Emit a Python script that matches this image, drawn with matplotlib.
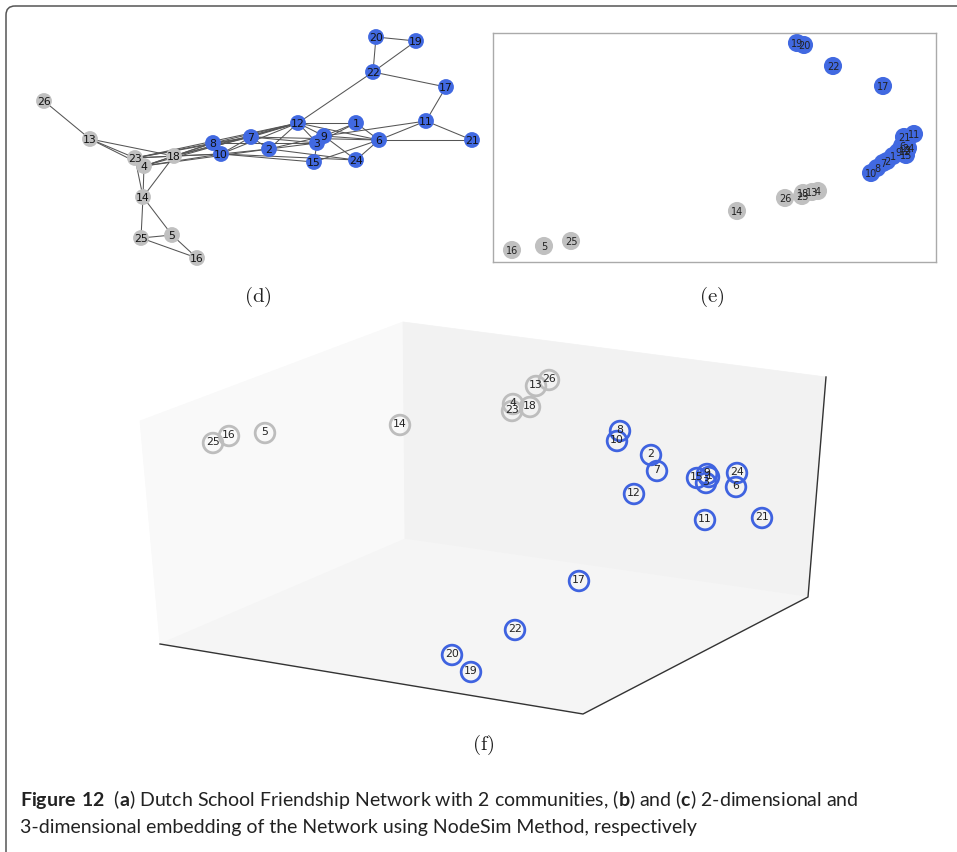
import matplotlib
matplotlib.use("Agg")
from matplotlib import pyplot as plt
from matplotlib.patches import FancyBboxPatch, Polygon

plt.rcParams['mathtext.fontset'] = 'custom'
plt.rcParams['mathtext.rm'] = 'Lato'
plt.rcParams['mathtext.bf'] = 'Lato:bold'

W, H = 957, 853

# nodes and their community (1 = blue, 0 = gray)
node_ids = list(range(1, 27))
community = [1, 1, 1, 0, 0, 1, 1, 1, 1, 1, 1, 1, 0, 0, 1, 0, 1, 0, 1, 1, 1, 1, 0, 1, 0, 0]

# (d) network layout
d_x = [356, 269, 317, 144, 172, 379, 251, 213, 324, 221, 426, 298, 90, 143, 314, 197, 446, 174, 416, 376, 472, 373, 135, 356, 141, 44]
d_y = [124, 150, 144, 167, 236, 141, 138, 144, 137, 155, 122, 124, 140, 198, 163, 259, 88, 157, 42, 38, 141, 73, 159, 161, 239, 102]

edges = [
    (26, 13), (13, 23), (13, 4), (13, 18),
    (23, 4), (23, 18), (23, 14), (4, 14), (18, 14), (4, 18),
    (14, 25), (14, 5), (25, 5), (25, 16), (5, 16),
    (23, 8), (23, 10), (23, 7), (4, 8), (4, 10), (4, 12), (4, 2),
    (18, 8), (18, 10), (18, 7), (18, 12), (23, 12),
    (8, 10), (8, 7), (8, 12), (8, 3), (10, 7), (10, 12), (10, 2), (10, 15), (10, 24),
    (7, 2), (7, 12), (7, 6), (7, 3), (2, 12), (2, 24), (2, 9), (2, 3),
    (12, 22), (12, 1), (12, 6), (12, 9), (12, 3),
    (1, 6), (1, 9), (1, 3), (9, 24), (9, 6), (9, 3), (9, 11), (3, 15), (15, 6), (24, 6),
    (6, 11), (6, 21), (11, 21), (11, 17), (22, 17), (22, 20), (22, 19), (20, 19),
]

# (e) 2-dimensional embedding
e_x = [893, 887, 907, 818, 544, 902, 883, 877, 898, 871, 914, 905, 812, 737, 906, 512, 883, 803, 797, 804, 904, 833, 802, 908, 571, 785]
e_y = [157, 162, 151, 192, 247, 147, 164, 169, 153, 174, 135, 152, 193, 212, 156, 251, 87, 194, 44, 46, 138, 67, 197, 149, 242, 199]

# (f) 3-dimensional embedding (projected)
f_x = [709, 651, 706, 513, 265, 736, 657, 620, 707, 617, 705, 634, 536, 400, 697, 229, 579, 530, 471, 452, 762, 515, 512, 737, 213, 549]
f_y = [478, 456, 484, 405, 434, 488, 472, 432, 475, 442, 521, 495, 387, 426, 479, 437, 582, 408, 673, 656, 519, 631, 412, 474, 444, 381]

BLUE = '#4169e1'
GRAY = '#c0c0c0'
colors = [BLUE if c else GRAY for c in community]
ring_colors = ['#3f63e0' if c else '#bdbdbd' for c in community]

fig = plt.figure(figsize=(W / 100, H / 100), dpi=100)

# frame
bg = fig.add_axes([0, 0, 1, 1])
bg.set_xlim(0, W)
bg.set_ylim(H, 0)
bg.axis('off')
bg.add_patch(FancyBboxPatch((6, 7), 1000, 900, boxstyle='round,pad=0,rounding_size=9',
                            fc='none', ec='#555555', lw=1.1))

# (d)
ax_d = fig.add_axes([20 / W, 1 - 275 / H, 470 / W, 255 / H])
ax_d.set_xlim(20, 490)
ax_d.set_ylim(275, 20)
ax_d.axis('off')
for a, b in edges:
    ax_d.plot([d_x[a - 1], d_x[b - 1]], [d_y[a - 1], d_y[b - 1]], color='#555555', lw=0.75, zorder=1)
ax_d.scatter(d_x, d_y, s=130, c=colors, linewidths=0, zorder=2)
for i, n in enumerate(node_ids):
    ax_d.text(d_x[i], d_y[i], str(n), ha='center', va='center', fontsize=7.8, color='#111111', zorder=3)

# (e)
ax_e = fig.add_axes([493 / W, 1 - 263 / H, 443 / W, 229 / H])
ax_e.set_xlim(493, 936)
ax_e.set_ylim(263, 34)
ax_e.set_xticks([])
ax_e.set_yticks([])
for sp in ax_e.spines.values():
    sp.set_color('#aaaaaa')
    sp.set_linewidth(1)
ax_e.scatter(e_x, e_y, s=170, c=colors, linewidths=0, zorder=2)
for i, n in enumerate(node_ids):
    ax_e.text(e_x[i], e_y[i], str(n), ha='center', va='center', fontsize=7, color='#222222', zorder=3)

# (f)
ax_f = fig.add_axes([120 / W, 1 - 740 / H, 740 / W, 430 / H])
ax_f.set_xlim(120, 860)
ax_f.set_ylim(740, 310)
ax_f.axis('off')
tl, tb, tr = (140, 422), (403, 323), (826, 378)
bl, bb, br, bf = (160, 645), (405, 540), (808, 598), (583, 715)
ax_f.add_patch(Polygon([tl, tb, bb, bl], closed=True, fc='#f9f9f9', ec='#f9f9f9', lw=0.5, zorder=0))
ax_f.add_patch(Polygon([tb, tr, br, bb], closed=True, fc='#f2f2f2', ec='#f2f2f2', lw=0.5, zorder=0))
ax_f.add_patch(Polygon([bb, br, bf, bl], closed=True, fc='#f5f5f5', ec='#f5f5f5', lw=0.5, zorder=0))
ax_f.plot([bl[0], bf[0], br[0], tr[0]], [bl[1], bf[1], br[1], tr[1]], color='#333333', lw=1.0, zorder=1)
ax_f.scatter(f_x, f_y, s=200, facecolors='none', edgecolors=ring_colors, linewidths=2.0, zorder=2)
for i, n in enumerate(node_ids):
    ax_f.text(f_x[i], f_y[i] - 2, str(n), ha='center', va='center', fontsize=7.8, color='#222222', zorder=3)

# panel labels
for lab, (px, py) in [('d', (258, 297)), ('e', (712, 297)), ('f', (483, 745))]:
    fig.text(px / W, 1 - py / H, r'$\mathrm{(%s)}$' % lab, ha='center', va='center',
             fontsize=15, math_fontfamily='cm', color='#222222')

# caption
line1 = (r'$\mathbf{Figure\ 12}$  ($\mathbf{a}$) Dutch School Friendship Network with 2 communities, '
         r'($\mathbf{b}$) and ($\mathbf{c}$) 2-dimensional and')
line2 = '3-dimensional embedding of the Network using NodeSim Method, respectively'
fig.text(20 / W, 1 - 806 / H, line1, ha='left', va='baseline', fontsize=14, family='Lato',
         math_fontfamily='custom', color='#222222')
fig.text(20 / W, 1 - 833 / H, line2, ha='left', va='baseline', fontsize=14, family='Lato',
         color='#222222')

fig.savefig('out.png', dpi=100)
